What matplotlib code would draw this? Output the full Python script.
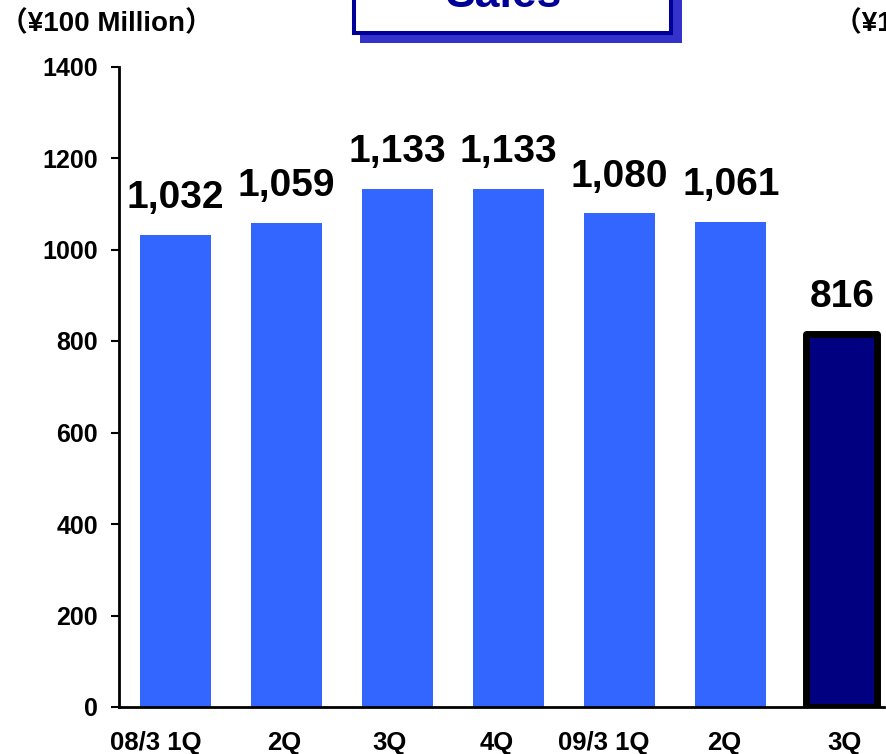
import numpy as np
import matplotlib
matplotlib.use("Agg")
import matplotlib.pyplot as plt
import matplotlib.transforms as mtransforms
from matplotlib.patches import Rectangle

plt.rcParams['font.family'] = ['Liberation Sans', 'Noto Sans CJK JP', 'DejaVu Sans']
plt.rcParams['font.weight'] = 'bold'

# quarterly sales, 100 million yen
quarters = ["08/3 1Q", "2Q", "3Q", "4Q", "09/3 1Q", "2Q", "3Q"]
sales = [1032, 1059, 1133, 1133, 1080, 1061, 816]
value_labels = ["1,032", "1,059", "1,133", "1,133", "1,080", "1,061", "816"]
y_ticks = [0, 200, 400, 600, 800, 1000, 1200, 1400]

W, H = 887, 754
fig = plt.figure(figsize=(W / 100, H / 100), dpi=100)
ax = fig.add_axes([119 / W, 1 - 707 / H, (884 - 119) / W, (707 - 66.5) / H])

x = np.arange(len(sales))
colors = ['#3366FF'] * (len(sales) - 1) + ['#000080']
bars = ax.bar(x, sales, width=0.64, color=colors, zorder=2)
# current quarter gets a heavy black outline
bars[-1].set_edgecolor('black')
bars[-1].set_linewidth(5)
bars[-1].set_joinstyle('round')

for xi, v, lab in zip(x, sales, value_labels):
    ax.annotate(lab, xy=(xi, v), xytext=(0, 19), textcoords='offset points',
                ha='center', va='baseline', fontsize=28, fontweight='bold',
                color='black')

ax.set_xlim(-0.51, 6.38)
ax.set_ylim(0, 1400)
ax.set_yticks(y_ticks)
ax.set_yticklabels([str(t) for t in y_ticks], fontsize=18, fontweight='bold')
ax.tick_params(axis='y', direction='out', length=6, width=1.5, pad=9)
ax.set_xticks(x)
ax.set_xticklabels(quarters, fontsize=18.5, fontweight='bold')
ax.tick_params(axis='x', length=0, pad=17)

# small shifts for the category labels
label_shift = [-20, -2, -8, -12, -16, -7, 3]
for lab, dx in zip(ax.get_xticklabels(), label_shift):
    off = mtransforms.ScaledTranslation(dx / 100, 0, fig.dpi_scale_trans)
    lab.set_transform(lab.get_transform() + off)

for side in ['top', 'right']:
    ax.spines[side].set_visible(False)
for side in ['left', 'bottom']:
    ax.spines[side].set_linewidth(2)
    ax.spines[side].set_color('black')

# unit labels (second one belongs to the neighbouring chart)
for ux in (0, 834):
    fig.text(ux / W, 1 - 24 / H, "（¥100 Million）", fontsize=20, fontweight='bold',
             ha='left', va='center')

# title box with drop shadow
def px_rect(x0, x1, top, bottom, **kw):
    return Rectangle((x0 / W, 1 - bottom / H), (x1 - x0) / W, (bottom - top) / H,
                     transform=fig.transFigure, **kw)

fig.patches.append(px_rect(360, 682, -40, 43, facecolor='#3333CC', edgecolor='none'))
fig.patches.append(px_rect(354, 671, -40, 33, facecolor='white', edgecolor='#000099',
                           linewidth=2.9))
fig.text(504 / W, 1 - 7 / H, "Sales", fontsize=32, fontweight='bold',
         color='#000099', ha='center', va='baseline')

fig.savefig("out.png", dpi=100)
